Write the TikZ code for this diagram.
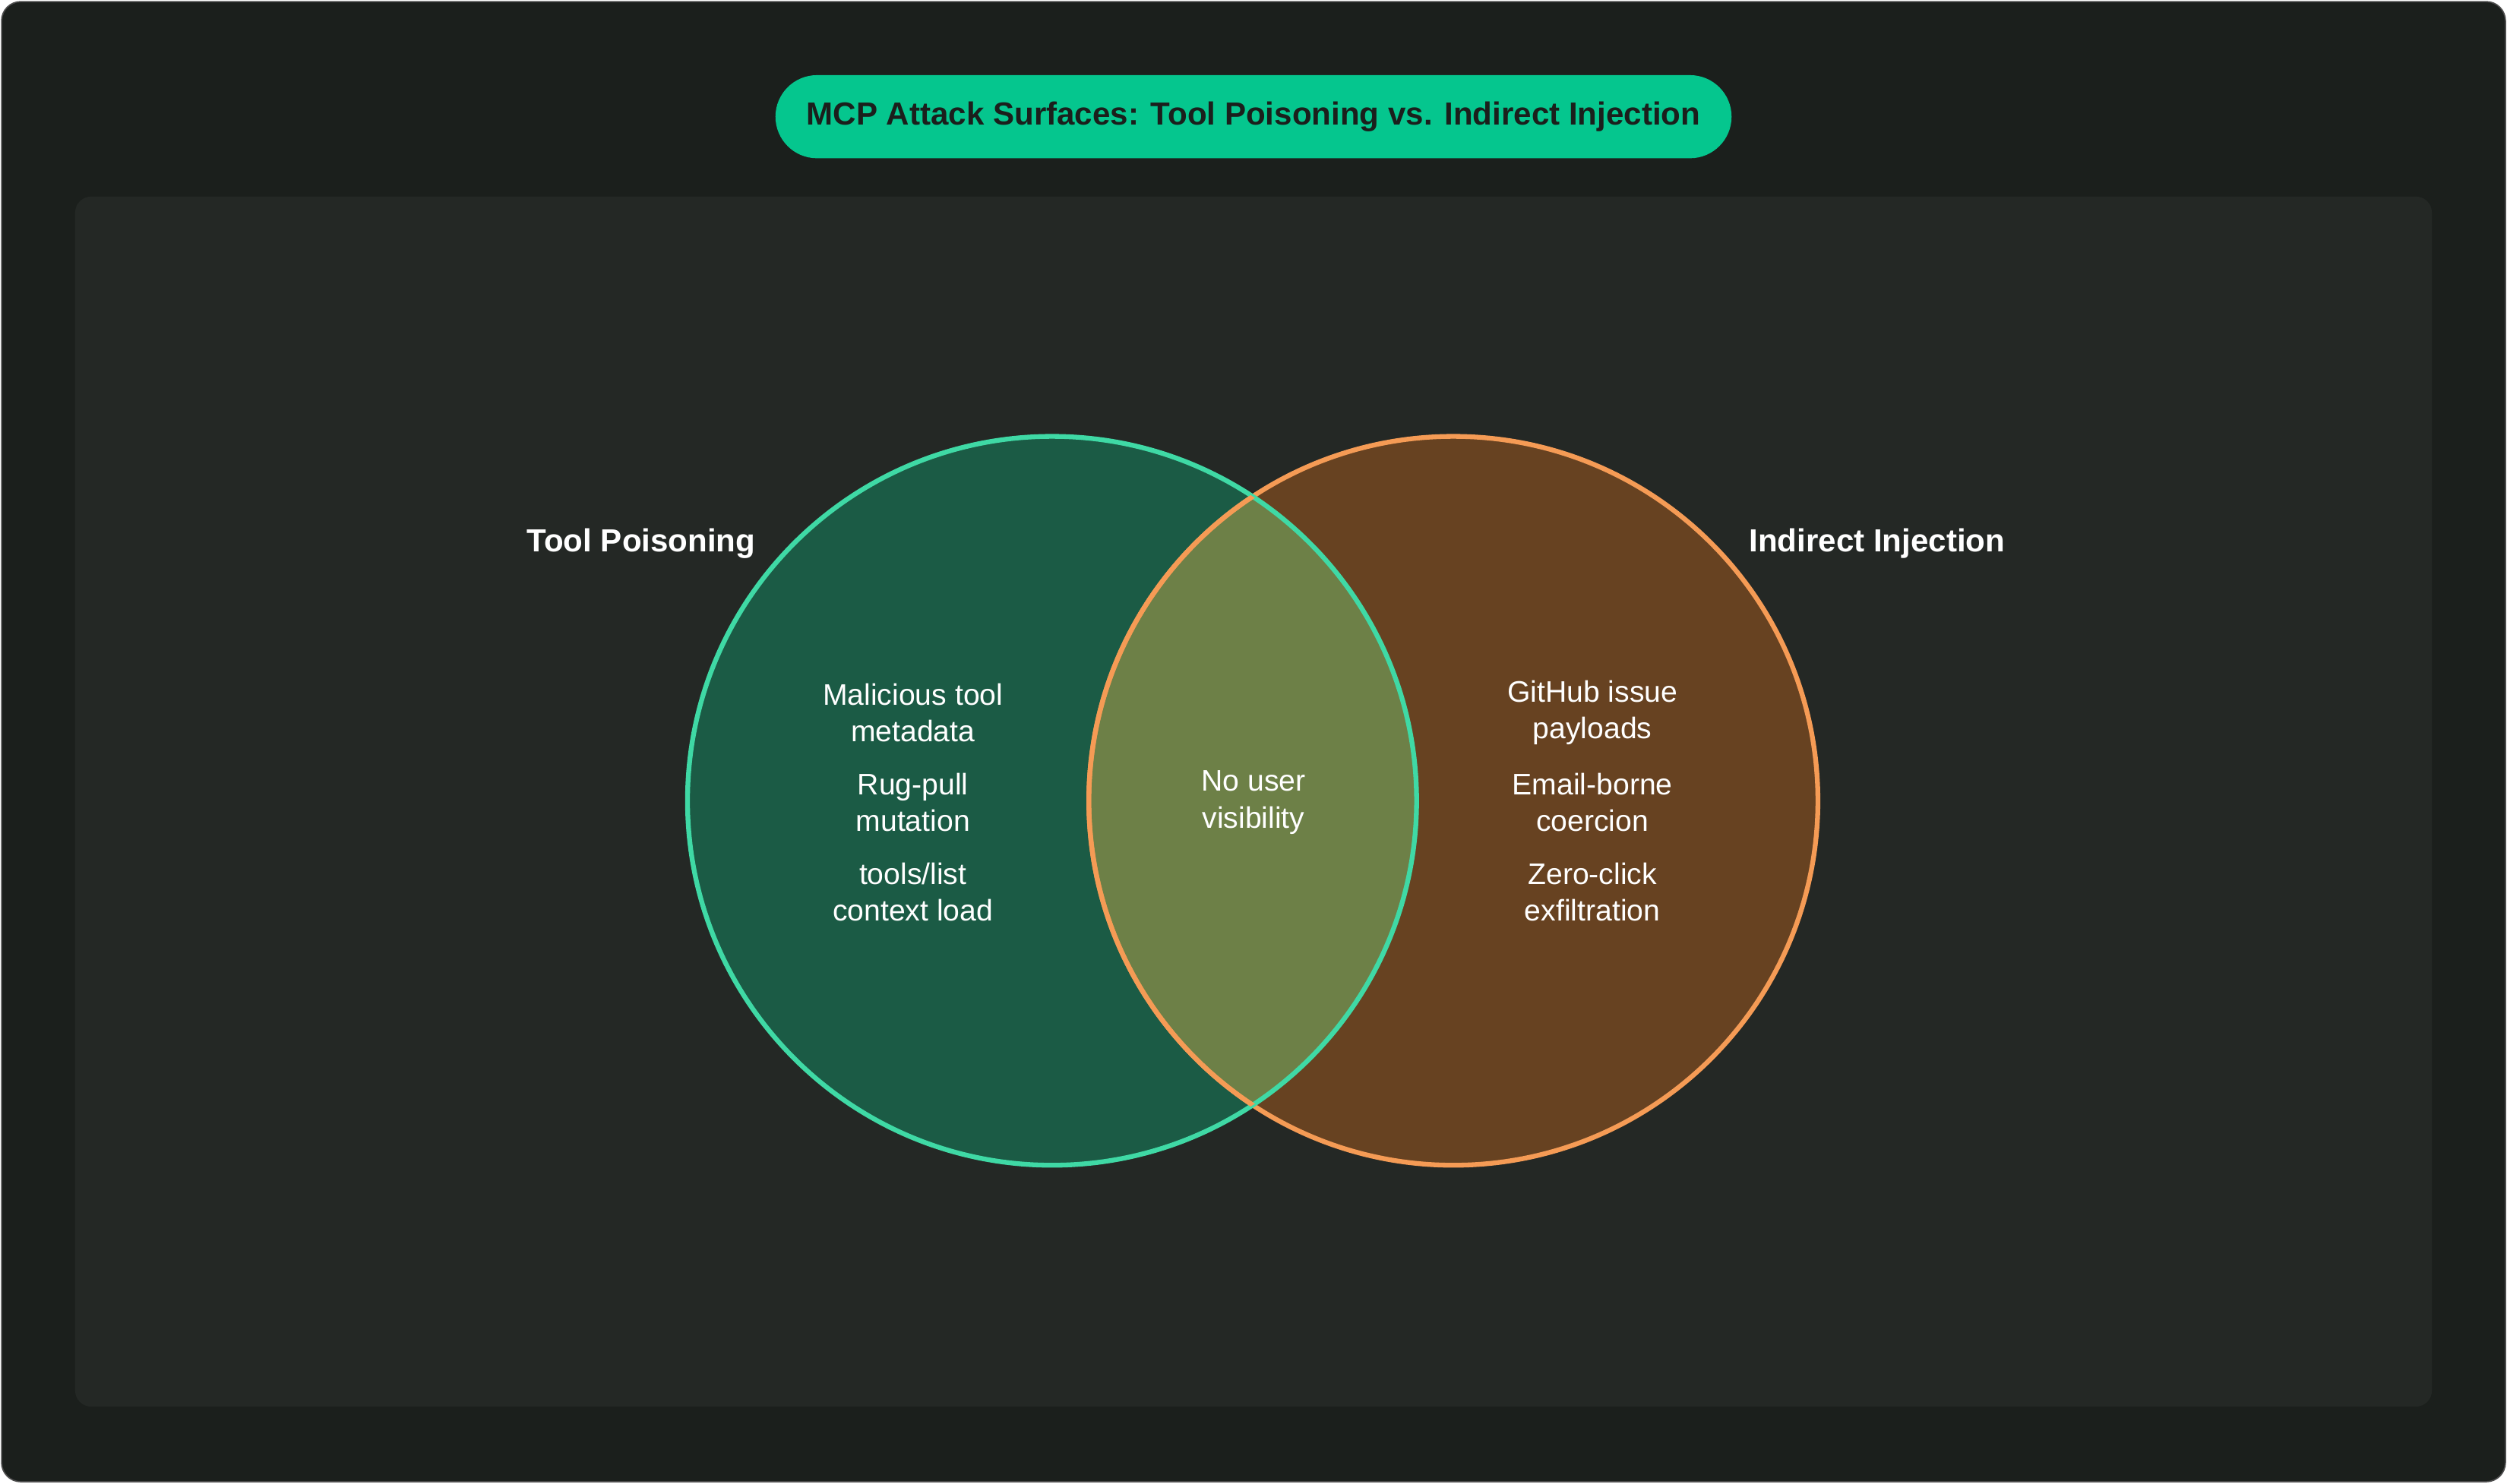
\documentclass[tikz,border=0pt]{standalone}
\usepackage{fontspec}
\setmainfont{Liberation Sans}
\begin{document}
\begin{tikzpicture}[x=0.5pt,y=-0.5pt,
  body/.style={text=white,align=center,font=\fontsize{9.3}{11.5}\selectfont},
  head/.style={text=white,font=\bfseries\fontsize{10}{12}\selectfont}]
\definecolor{bgc}{HTML}{1B1F1C}
\definecolor{panel}{HTML}{242825}
\definecolor{pill}{HTML}{05C68E}
\definecolor{lfill}{HTML}{1B5B45}
\definecolor{lline}{HTML}{3FD9A5}
\definecolor{rfill}{HTML}{674221}
\definecolor{rline}{HTML}{F59B55}
\definecolor{mfill}{HTML}{6D8047}
\useasboundingbox (0,0) rectangle (1568,928);
\fill[bgc,draw=gray!60!black,rounded corners=6pt] (1,1) rectangle (1567,927);
\fill[panel,rounded corners=5pt] (47,123) rectangle (1521,880);
\node[fill=pill,rounded corners=13pt,minimum width=299pt,minimum height=26pt,
  text=bgc,font=\bfseries\fontsize{10}{12}\selectfont] (title) at (784,73)
  {MCP Attack Surfaces: Tool Poisoning vs. Indirect Injection};
\coordinate (lc) at (658,501);
\coordinate (rc) at (909,501);
\fill[lfill] (lc) circle (114pt);
\fill[rfill] (rc) circle (114pt);
\begin{scope}
\clip (lc) circle (114pt);
\fill[mfill] (rc) circle (114pt);
\end{scope}
\draw[rline,line width=1.5pt] (rc) circle (114pt);
\draw[lline,line width=1.5pt] (lc) circle (114pt);
\begin{scope}
\clip (lc) circle (114pt);
\draw[rline,line width=1.5pt] (rc) circle (114pt);
\end{scope}
\node[head] (tp) at (401,340) {Tool Poisoning};
\node[head] (ii) at (1174,340) {Indirect Injection};
\node[body] (l1) at (571,446) {Malicious tool\\metadata};
\node[body] (l2) at (571,502) {Rug-pull\\mutation};
\node[body] (l3) at (571,558) {tools/list\\context load};
\node[body] (m1) at (784,502) {No user\\visibility};
\node[body] (r1) at (996,446) {GitHub issue\\payloads};
\node[body] (r2) at (996,502) {Email-borne\\coercion};
\node[body] (r3) at (996,558) {Zero-click\\exfiltration};
\end{tikzpicture}
\end{document}
